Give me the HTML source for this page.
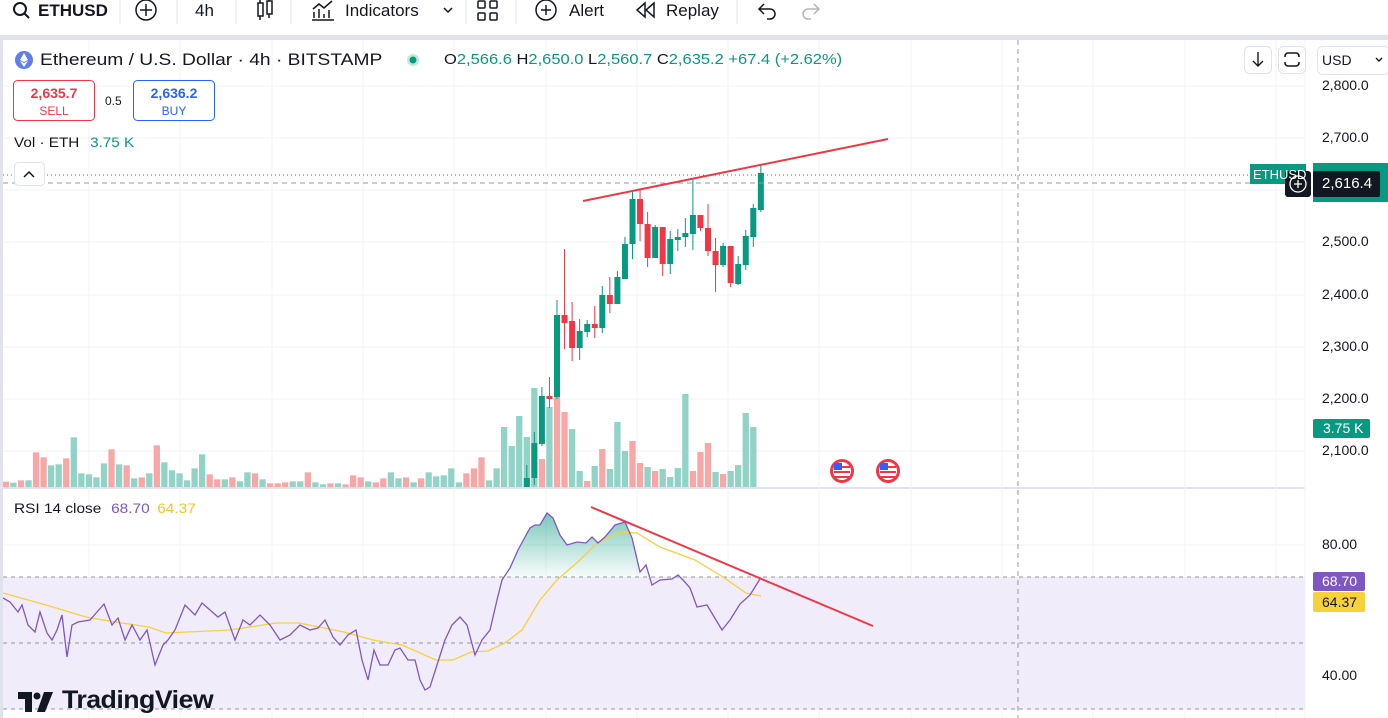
<!DOCTYPE html>
<html><head><meta charset="utf-8"><style>
html,body{margin:0;padding:0;width:1388px;height:718px;overflow:hidden;background:#fff;font-family:"Liberation Sans",sans-serif;color:#131722}
.a{position:absolute;white-space:nowrap}
.w{transform-origin:0 0}
</style></head><body>
<svg id="s" width="1388" height="718" style="position:absolute;left:0;top:0" xmlns="http://www.w3.org/2000/svg">
<defs>
<linearGradient id="gg" gradientUnits="userSpaceOnUse" x1="0" y1="512" x2="0" y2="577"><stop offset="0" stop-color="#089981" stop-opacity="0.55"/><stop offset="1" stop-color="#089981" stop-opacity="0.03"/></linearGradient>
<clipPath id="above"><rect x="0" y="488" width="1305" height="89"/></clipPath>
<clipPath id="pp"><rect x="3" y="40" width="1302" height="447"/></clipPath>
<clipPath id="rp"><rect x="3" y="489" width="1302" height="229"/></clipPath>
</defs>
<rect x="0" y="35" width="1388" height="5" fill="#e0e3eb"/>
<rect x="0" y="35" width="3" height="683" fill="#e0e3eb"/>
<line x1="0" y1="488" x2="1305" y2="488" stroke="#e0e3eb" stroke-width="2"/>
<line x1="1305" y1="40" x2="1305" y2="718" stroke="#f0f3fa"/>
<g id="grid" stroke="#f2f3f5"></g>
<rect x="3" y="577" width="1302" height="132" fill="#f0ecf9"/>
<g stroke="#9598a1" stroke-dasharray="4,4" stroke-width="1">
<line x1="3" y1="577" x2="1305" y2="577"/><line x1="3" y1="643" x2="1305" y2="643"/><line x1="3" y1="709" x2="1305" y2="709"/>
</g>
<g id="vol" clip-path="url(#pp)"></g>
<g id="can" clip-path="url(#pp)"></g>
<line x1="3" y1="175" x2="1250" y2="175" stroke="#089981" stroke-dasharray="1,3"/>
<line x1="3" y1="183" x2="1305" y2="183" stroke="#9598a1" stroke-dasharray="5,4"/>
<line x1="1018" y1="40" x2="1018" y2="718" stroke="#9598a1" stroke-dasharray="5,4"/>
<line x1="583" y1="201" x2="888" y2="139" stroke="#f23645" stroke-width="2"/>
<g id="rsi" clip-path="url(#rp)"></g>
<line x1="591" y1="507" x2="873" y2="626" stroke="#f23645" stroke-width="2"/>
<g>
<circle cx="842" cy="471" r="12" fill="#f23645"/><circle cx="842" cy="471" r="9" fill="#fff"/><rect x="834" y="466" width="16" height="2" fill="#f23645"/><rect x="834" y="471" width="16" height="2" fill="#f23645"/><rect x="834" y="476" width="16" height="2" fill="#f23645"/><rect x="834" y="463" width="8" height="7" fill="#2962ff"/>
<circle cx="888" cy="471" r="12" fill="#f23645"/><circle cx="888" cy="471" r="9" fill="#fff"/><rect x="880" y="466" width="16" height="2" fill="#f23645"/><rect x="880" y="471" width="16" height="2" fill="#f23645"/><rect x="880" y="476" width="16" height="2" fill="#f23645"/><rect x="880" y="463" width="8" height="7" fill="#2962ff"/>
</g>
<rect x="1250" y="164" width="56" height="20" fill="#089981"/>
<rect x="1313" y="163" width="75" height="39" fill="#089981"/>
<rect x="1285" y="171" width="26" height="26" rx="3" fill="#131722"/>
<circle cx="1298" cy="184" r="8" fill="none" stroke="#fff" stroke-width="1.3"/>
<path d="M1294 184h8M1298 180v8" stroke="#fff" stroke-width="1.3"/>
<rect x="1313" y="171" width="67" height="26" rx="2" fill="#131722"/>
<rect x="1313" y="419" width="57" height="19" rx="2" fill="#089981"/>
<rect x="1313" y="572" width="52" height="19" rx="2" fill="#7e57c2"/>
<rect x="1313" y="592" width="52" height="20" rx="2" fill="#f7d13a"/>
<circle cx="24" cy="60" r="9" fill="#627eea"/><path d="M24 53l-4 7 4 2 4-2z M24 63l-4-2 4 6 4-6z" fill="#fff"/>
<circle cx="413" cy="60" r="6" fill="#bfe8df"/><circle cx="413" cy="60" r="3.5" fill="#089981"/>
<rect x="13.5" y="80.5" width="81" height="40" rx="4" fill="#fff" stroke="#f23645"/>
<rect x="133.5" y="80.5" width="81" height="40" rx="4" fill="#fff" stroke="#2962ff"/>
<rect x="14.5" y="162.5" width="30" height="23" rx="4" fill="#fff" stroke="#e0e3eb"/>
<path d="M24 177l5-5 5 5" fill="none" stroke="#131722" stroke-width="1.5"/>
<rect x="1244.5" y="46.5" width="27" height="27" rx="5" fill="#fff" stroke="#e0e3eb"/>
<path d="M1258 52v14M1253 61l5 5 5-5" fill="none" stroke="#131722" stroke-width="1.4"/>
<rect x="1278.5" y="46.5" width="27" height="27" rx="5" fill="#fff" stroke="#e0e3eb"/>
<rect x="1285" y="53" width="14" height="13" rx="3" fill="none" stroke="#131722" stroke-width="1.6"/>
<rect x="1283" y="57" width="18" height="5" fill="#fff"/>
<rect x="1317.5" y="46.5" width="72" height="28" rx="5" fill="#fff" stroke="#e0e3eb"/>
<path d="M1376 58l3 3 3-3" fill="none" stroke="#131722" stroke-width="1.4"/>
<circle cx="20" cy="9" r="6" fill="none" stroke="#131722" stroke-width="2"/><path d="M24 13l5 5" stroke="#131722" stroke-width="2"/>
<line x1="120" y1="0" x2="120" y2="24" stroke="#e0e3eb"/>
<circle cx="146" cy="10" r="10" fill="none" stroke="#131722" stroke-width="1.5"/><path d="M140 10h12M146 4v12" stroke="#131722" stroke-width="1.5"/>
<line x1="177" y1="0" x2="177" y2="24" stroke="#e0e3eb"/>
<line x1="236" y1="0" x2="236" y2="24" stroke="#e0e3eb"/>
<rect x="258" y="3" width="5" height="13" fill="none" stroke="#131722" stroke-width="1.5"/><rect x="267" y="1" width="5" height="13" fill="none" stroke="#131722" stroke-width="1.5"/><path d="M260 0v3M260 16v4M269 -2v3M269 14v4" stroke="#131722" stroke-width="1.5"/>
<line x1="291" y1="0" x2="291" y2="24" stroke="#e0e3eb"/>
<path d="M312 20h22M314 18v-6M319 18v-9M324 18v-4M329 18v-8" stroke="#131722" stroke-width="1.5"/><path d="M313 9l6-5 5 4 8-7" fill="none" stroke="#131722" stroke-width="1.5"/>
<path d="M444 8l4 4 4-4" fill="none" stroke="#131722" stroke-width="1.5"/>
<line x1="466" y1="0" x2="466" y2="24" stroke="#e0e3eb"/>
<rect x="478" y="1" width="7" height="7" rx="1" fill="none" stroke="#131722" stroke-width="1.5"/><rect x="490" y="1" width="7" height="7" rx="1" fill="none" stroke="#131722" stroke-width="1.5"/><rect x="478" y="13" width="7" height="7" rx="1" fill="none" stroke="#131722" stroke-width="1.5"/><rect x="490" y="13" width="7" height="7" rx="1" fill="none" stroke="#131722" stroke-width="1.5"/>
<line x1="516" y1="0" x2="516" y2="24" stroke="#e0e3eb"/>
<circle cx="546" cy="10" r="10" fill="none" stroke="#131722" stroke-width="1.5"/><path d="M541 10h10M546 5v10" stroke="#131722" stroke-width="1.5"/>
<path d="M645 3l-8 7 8 7zM654 3l-8 7 8 7z" fill="none" stroke="#131722" stroke-width="1.5"/>
<line x1="737" y1="0" x2="737" y2="24" stroke="#e0e3eb"/>
<path d="M760 9h10a5 5 0 0 1 0 10h-3M764 4l-5 5 5 5" fill="none" stroke="#131722" stroke-width="1.5"/>
<path d="M818 9h-10a5 5 0 0 0 0 10h3M814 4l5 5-5 5" fill="none" stroke="#b2b5be" stroke-width="1.5"/>
<path d="M18 692h14v20h-7v-13h-7z" fill="#131722"/><circle cx="37" cy="696" r="3.5" fill="#131722"/><path d="M44 692h9l-8 20h-8z" fill="#131722"/>
</svg>

<div class="a" style="left:38px;top:1px;font-size:17px;font-weight:bold">ETHUSD</div>
<div class="a" style="left:195px;top:1px;font-size:17px">4h</div>
<div class="a" style="left:345px;top:1px;font-size:17px">Indicators</div>
<div class="a" style="left:569px;top:1px;font-size:17px">Alert</div>
<div class="a" style="left:666px;top:1px;font-size:17px">Replay</div>

<div class="a w" style="left:40px;top:50px;font-size:17px;transform:scaleX(1.13)">Ethereum / U.S. Dollar · 4h · BITSTAMP</div>
<div class="a w" style="left:444px;top:51px;font-size:15px;transform:scaleX(1.1)">O<span style="color:#089981">2,566.6</span> H<span style="color:#089981">2,650.0</span> L<span style="color:#089981">2,560.7</span> C<span style="color:#089981">2,635.2</span> <span style="color:#089981">+67.4 (+2.62%)</span></div>
<div class="a" style="left:14px;top:85px;width:80px;text-align:center;font-size:14px;font-weight:bold;color:#f23645;line-height:17px">2,635.7<br><span style="font-size:12px;font-weight:normal">SELL</span></div>
<div class="a" style="left:105px;top:94px;font-size:12px">0.5</div>
<div class="a" style="left:134px;top:85px;width:80px;text-align:center;font-size:14px;font-weight:bold;color:#2962ff;line-height:17px">2,636.2<br><span style="font-size:12px;font-weight:normal">BUY</span></div>
<div class="a w" style="left:14px;top:134px;font-size:14px;transform:scaleX(1.09)">Vol · ETH <span style="color:#089981;margin-left:6px">3.75 K</span></div>
<div class="a" style="left:1322px;top:52px;font-size:14px">USD</div>

<div class="a" style="left:1322px;top:77px;font-size:14px">2,800.0</div>
<div class="a" style="left:1322px;top:129px;font-size:14px">2,700.0</div>
<div class="a" style="left:1322px;top:233px;font-size:14px">2,500.0</div>
<div class="a" style="left:1322px;top:286px;font-size:14px">2,400.0</div>
<div class="a" style="left:1322px;top:338px;font-size:14px">2,300.0</div>
<div class="a" style="left:1322px;top:390px;font-size:14px">2,200.0</div>
<div class="a" style="left:1322px;top:442px;font-size:14px">2,100.0</div>
<div class="a" style="left:1253px;top:167px;font-size:13px;color:#fff">ETHUSD</div>
<div class="a" style="left:1322px;top:175px;font-size:15px;color:#fff">2,616.4</div>
<div class="a" style="left:1323px;top:420px;font-size:14px;color:#fff">3.75 K</div>

<div class="a w" style="left:14px;top:500px;font-size:14px;transform:scaleX(1.1)">RSI 14 close <span style="color:#7e57c2;margin-left:5px">68.70</span> <span style="color:#f7c52a;margin-left:3px">64.37</span></div>
<div class="a" style="left:1322px;top:536px;font-size:14px">80.00</div>
<div class="a" style="left:1322px;top:667px;font-size:14px">40.00</div>
<div class="a" style="left:1322px;top:573px;font-size:14px;color:#fff">68.70</div>
<div class="a" style="left:1322px;top:594px;font-size:14px">64.37</div>
<div class="a w" style="left:62px;top:686px;font-size:25px;font-weight:bold;letter-spacing:-0.5px;transform:scaleX(1.07)">TradingView</div>

<script>
var NS="http://www.w3.org/2000/svg";
function el(p,t,a){var e=document.createElementNS(NS,t);for(var k in a)e.setAttribute(k,a[k]);document.getElementById(p).appendChild(e);return e;}
[86,138,190,242,295,347,399,451,545,610,676].forEach(function(y){el("grid","line",{x1:3,y1:y,x2:1305,y2:y});});
[89,180,272,363,454,546,637,728,819,911,1002,1093,1185,1276].forEach(function(x){el("grid","line",{x1:x,y1:40,x2:x,y2:718});});
var early=[[185,'r'],[188,'g'],[181,'r'],[181,'g'],[97,'r'],[112,'r'],[136,'g'],[133,'g'],[115,'r'],[52,'g'],[160,'g'],[163,'g'],[172,'g'],[130,'g'],[88,'r'],[133,'g'],[136,'r'],[175,'g'],[172,'r'],[160,'g'],[76,'r'],[127,'g'],[151,'g'],[160,'g'],[181,'g'],[145,'g'],[103,'g'],[163,'r'],[178,'r'],[178,'g'],[172,'r'],[184,'g'],[157,'g'],[160,'r'],[178,'g'],[190,'r'],[190,'r'],[187,'r'],[184,'g'],[184,'g'],[157,'r'],[187,'g'],[193,'g'],[190,'r'],[190,'g'],[193,'r'],[166,'r'],[172,'r'],[184,'g'],[187,'r'],[175,'r'],[157,'g'],[175,'g'],[172,'r'],[187,'g'],[175,'r'],[157,'g'],[169,'g'],[166,'g'],[145,'g'],[187,'g'],[160,'r'],[145,'r'],[112,'r'],[181,'g'],[145,'g']];
var vols=early.map(function(v){return [v[0]/3+420,v[1]];});
var late=[427,446,416,437,388,459,407,376,412,429,471,481,466,449,469,422,451,441,463,467,471,469,477,468,394,471,452,443,472,474,471,465,413,427];
var lc="gggggrgrrggrgrgggrrgrggggrrrgrgggg";
late.forEach(function(y,i){vols.push([y,lc[i]]);});
vols.forEach(function(v,i){var x=2.7+i*7.55;el("vol","rect",{x:x,y:v[0],width:6.3,height:487-v[0],fill:v[1]=='g'?'#92d3c8':'#f7a8a6'});});
var C=[['g',465,478,487,487],['g',432,443,478,485],['g',387,396,444,446],['r',377,396,399,408],['g',300,315,397,399],['r',249,315,323,349],['r',302,321,348,361],['g',319,331,348,360],['g',320,324,332,337],['r',306,324,328,338],['g',286,295,328,333],['r',277,295,304,313],['g',271,277,304,304],['g',237,244,279,279],['g',190,199,244,259],['r',189,199,224,241],['r',212,224,258,267],['g',225,227,258,258],['r',227,227,264,276],['g',231,239,264,274],['g',229,237,240,251],['g',218,233,237,247],['g',179,215,234,250],['r',215,215,228,231],['r',204,228,251,256],['r',238,251,265,292],['g',243,246,265,267],['r',246,246,283,287],['g',256,264,284,285],['g',230,236,265,270],['g',204,208,237,247],['g',165,173,210,212]];
C.forEach(function(c,i){var cx=2.7+(69+i)*7.55+3.15;var col=c[0]=='g'?'#089981':'#f23645';
el("can","line",{x1:cx,y1:c[1],x2:cx,y2:c[4],stroke:col,"stroke-width":1});
el("can","rect",{x:cx-3,y:c[2],width:6,height:Math.max(2,c[3]-c[2]),fill:col});});
var P=[[3,598],[10,602],[18,612],[22,605],[28,625],[35,632],[40,612],[47,633],[52,640],[57,630],[62,615],[67,657],[72,625],[78,622],[90,620],[97,612],[104,604],[112,625],[118,618],[125,640],[132,625],[140,640],[147,630],[155,665],[163,645],[168,640],[175,630],[185,605],[195,615],[202,603],[210,610],[218,617],[225,612],[235,640],[243,620],[250,625],[260,615],[270,625],[280,640],[290,635],[300,625],[310,630],[318,628],[325,620],[333,637],[340,645],[348,635],[356,630],[362,660],[368,680],[374,650],[380,665],[388,665],[395,650],[400,648],[408,660],[415,660],[420,680],[425,690],[430,687],[437,665],[445,640],[452,625],[460,617],[467,625],[475,655],[482,640],[490,630],[497,600],[502,580],[510,568],[518,550],[525,537],[530,528],[535,525],[540,525],[547,513],[553,518],[560,535],[567,545],[577,542],[586,543],[592,537],[598,543],[605,537],[615,525],[625,522],[632,538],[640,572],[646,565],[652,585],[660,580],[672,579],[678,575],[683,580],[690,588],[697,607],[707,605],[713,615],[722,630],[730,620],[740,604],[750,595],[760,579]];
var Y=[[3,593],[46,605],[86,617],[115,622],[149,627],[166,633],[230,630],[276,623],[299,623],[344,632],[373,640],[402,645],[436,660],[453,660],[471,652],[488,651],[505,643],[522,630],[540,600],[557,580],[580,560],[597,543],[620,532],[637,533],[660,547],[695,560],[723,577],[746,593],[761,596]];
function pts(a){return a.map(function(p){return p.join(",");}).join(" ");}
var area="3,577 "+pts(P)+" 760,577";
el("rsi","polygon",{points:area,fill:"url(#gg)","clip-path":"url(#above)"});
el("rsi","polyline",{points:pts(Y),fill:"none",stroke:"#f7d13a","stroke-width":1.3});
el("rsi","polyline",{points:pts(P),fill:"none",stroke:"#7e57c2","stroke-width":1.3});
</script>
</body></html>
